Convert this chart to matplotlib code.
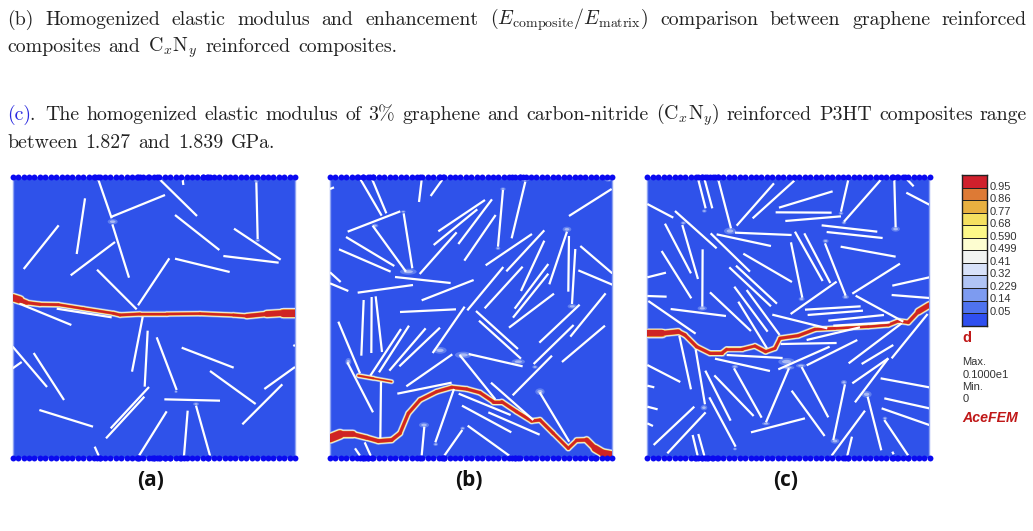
import matplotlib
matplotlib.use('Agg')
import matplotlib.pyplot as plt
from matplotlib.patches import Ellipse
from matplotlib.colors import ListedColormap
import numpy as np

plt.rcParams['mathtext.fontset'] = 'cm'
plt.rcParams['axes.unicode_minus'] = False

fibres_a = [
    (295,44,335,160),(337,178,387,338),(335,155,495,90),(255,100,230,267),(176,181,71,312),
    (345,231,212,331),(291,314,410,433),(508,280,414,421),(525,281,689,321),(525,150,658,255),
    (480,44,591,153),(548,44,550,60),(769,52,773,222),(702,191,842,284),(670,273,836,293),
    (58,416,214,480),(170,431,335,457),(428,456,396,620),(443,497,434,665),(470,517,530,675),
    (545,548,701,608),(630,618,767,717),(885,606,793,672),(847,658,727,778),(880,540,885,543),
    (38,545,141,666),(38,610,65,591),(101,564,192,705),(118,735,279,785),(447,666,332,790),
    (433,695,318,820),(493,703,660,707),(500,739,417,872),(563,737,552,872),(588,722,630,872),
    (284,845,296,872),
]
fibres_b = [
    (122,44,185,152),(157,44,199,145),(305,44,297,111),(367,44,332,93),(30,72,42,67),
    (875,72,747,153),(616,50,575,220),(549,75,534,245),(495,105,355,199),(472,133,341,240),
    (516,103,415,237),(527,150,433,287),(410,202,299,327),(241,139,83,200),(251,145,277,310),
    (158,182,258,320),(78,216,223,303),(57,253,212,320),(30,322,62,351),(30,355,85,378),
    (225,336,392,354),(113,383,279,360),(461,345,305,406),(636,207,497,301),(673,196,559,319),
    (550,306,442,436),(608,305,494,430),(673,227,603,378),(685,297,584,431),(685,326,579,458),
    (702,386,567,488),(741,200,688,358),(747,213,745,380),(766,252,756,417),(781,243,877,325),
    (775,316,877,359),(857,385,751,515),(779,419,658,533),(855,482,726,591),(761,480,641,597),
    (696,572,578,691),(131,405,124,572),(155,396,154,564),(167,394,186,561),(240,441,408,433),
    (434,425,338,564),(468,438,594,552),(477,467,603,581),(55,470,120,625),(243,492,151,632),
    (267,482,177,622),(317,490,208,617),(360,488,238,604),(446,567,608,604),(397,568,259,664),
    (395,653,232,686),(419,570,526,703),(513,653,640,765),(416,686,572,750),(426,722,574,802),
    (505,742,659,809),(443,782,568,872),(659,682,748,830),(402,672,346,832),(313,785,305,872),
    (427,795,373,872),(82,592,159,742),(183,650,181,820),(105,850,120,872),(134,832,152,872),
]
fibres_c = [
    (190,44,212,130),(209,44,232,130),(250,44,288,190),(417,55,305,182),(478,47,353,160),
    (593,79,432,128),(640,44,618,140),(738,44,627,170),(778,44,782,187),(817,44,836,64),
    (814,83,883,119),(37,117,115,158),(120,138,245,250),(422,142,590,143),(451,168,618,154),
    (560,181,727,200),(575,201,743,219),(300,203,470,210),(245,208,408,243),(90,176,168,325),
    (142,180,189,342),(80,258,169,400),(227,205,345,320),(203,253,202,425),(325,266,471,351),
    (468,232,502,398),(480,200,563,348),(508,205,586,354),(570,235,632,392),(617,245,782,275),
    (795,296,652,386),(772,362,883,337),(770,390,883,399),(37,337,93,323),(37,393,95,395),
    (40,408,182,506),(107,432,273,453),(225,382,348,498),(283,307,408,424),(303,302,426,416),
    (298,365,398,500),(310,410,396,550),(335,375,434,510),(605,350,467,447),(662,392,805,470),
    (412,449,577,490),(510,434,677,424),(518,450,684,437),(580,467,747,450),(595,482,764,472),
    (515,525,675,487),(437,537,605,534),(275,570,443,579),(240,581,405,618),(133,512,168,673),
    (182,553,210,718),(37,600,136,651),(37,662,58,667),(37,725,68,733),(37,775,54,783),
    (211,617,287,767),(238,631,356,753),(223,697,302,845),(297,610,380,758),(178,725,56,840),
    (212,742,97,865),(173,810,188,872),(190,807,208,872),(430,613,584,545),(515,601,667,525),
    (462,610,393,772),(500,606,580,757),(470,677,569,813),(510,760,348,802),(630,658,595,825),
    (690,737,590,872),(651,815,637,872),(641,595,800,475),(680,597,775,540),(652,655,760,580),
    (770,580,878,447),(660,712,760,580),(698,695,739,856),(737,640,883,667),(748,700,883,730),
    (740,730,883,780),(748,765,820,872),(772,860,776,868),
]

crack_a_x = [38,60,80,120,175,250,340,360,420,500,600,700,740,800,850,885]
crack_a_y = [398,405,413,418,419,431,445,450,447,447,446,450,453,447,444,444]
crack_a_w = [14,9,5,5,4,4,4,5,4,4,4,4,5,8,11,14]

crack_b_x = [30,60,100,140,175,215,240,265,300,350,395,440,480,520,545,590,635,660,700,745,770,800,825,850,877]
crack_b_y = [820,808,808,818,828,825,805,745,705,680,667,672,683,710,710,740,768,765,805,850,826,825,850,865,870]
crack_b_w = [15,12,7,6,6,6,5,5,5,5,5,5,5,5,5,5,5,5,5,4,5,6,10,12,12]

crack_b2_x = [115,160,215]
crack_b2_y = [632,640,650]
crack_b2_w = [3,3,1.5]

crack_c_x = [37,80,130,150,185,225,260,275,320,360,392,420,435,490,540,600,700,760,790,820,850,883]
crack_c_y = [505,505,500,510,545,565,565,553,553,543,560,550,520,512,493,490,485,480,468,472,440,420]
crack_c_w = [13,9,6,5,5,5,5,5,4,5,5,4,5,5,5,4,4,4,5,5,6,11]

glow_a = [(338,170,30,16),(773,226,14,10),(769,48,14,10),(588,717,18,10),(528,680,10,8),(427,455,12,8)]
glow_b = [(265,320,50,18),(165,182,20,12),(250,140,14,8),(549,72,16,10),(534,250,14,10),(741,193,26,16),
          (757,424,28,14),(360,556,40,20),(430,570,50,20),(595,590,40,16),(660,680,28,20),(312,780,30,16),
          (347,838,14,10),(428,790,14,10),(85,590,18,22),(645,606,16,10),(615,46,22,8),(865,46,18,8)]
glow_c = [(285,198,36,20),(208,138,14,10),(145,174,16,10),(782,192,26,16),(627,173,14,10),(618,145,14,10),
          (572,228,18,12),(500,402,18,12),(632,396,20,12),(202,430,28,14),(300,605,20,12),(207,728,20,16),
          (393,776,24,10),(460,608,36,12),(498,602,30,12),(455,590,50,22),(627,652,18,14),(600,828,26,16),
          (695,688,30,20),(750,760,14,10),(300,852,12,8)]

nodes = [38,54,71,87,103,120,136,152,168,185,201,217,234,250,266,283,299,315,331,348,364,380,397,413,
         429,446,462,478,494,511,527,543,560,576,592,609,625,641,657,674,690,706,723,739,755,772,788,
         804,820,837,853,869,885]
extra_a_top = [285,295,412,420,445,470,610,620,630]
extra_a_bot = [292,300,410,418,455,462,470,480,495,510,540,552,625]
extra_b_top = [115,128,150,160,300,360,370,575,600,610]
extra_b_bot = [120,128,135,145,155,300,365,372,575,585,595,825]
extra_c_top = [190,200,210,225,240,250,775,790,810]
extra_c_bot = [180,190,200,210,220,232,245,630,640,775,790,820]

level_labels = ['0.95','0.86','0.77','0.68','0.590','0.499','0.41','0.32','0.229','0.14','0.05']
level_colors = ['#2f4ff0','#4f73ee','#7d9bf0','#b0c4f5','#d8e2fa','#f2f4f2','#fdfdd0','#fdf888',
                '#f5e060','#e8b040','#dd7a35','#d0202c']
panel_labels = ['(a)','(b)','(c)']

BLUE = '#2f52ea'
W, H = 1033, 531
fig = plt.figure(figsize=(W/100, H/100), dpi=100)


def make_ax(x0, y0, x1, y1):
    return fig.add_axes([x0/W, 1-y1/H, (x1-x0)/W, (y1-y0)/H])


def draw_crack(ax, x, y, w):
    # each layer is a run of round capped pieces, so width holds on the steep parts
    for extra, col in [(7,'#7f96f0'),(5,'#dfe5fa'),(3.2,'#fdf6a8'),(1.2,'#ef9a30'),(0,'#cf2424')]:
        for i in range(len(x)-1):
            lw = (w[i]+w[i+1])/2+extra
            ax.plot(x[i:i+2], y[i:i+2], color=col, lw=lw*0.42, solid_capstyle='round', zorder=4)


def draw_panel(x0, x1, fibres, cracks, glows, top_extra, bot_extra, left, right):
    ax = make_ax(x0, 165+36/3, x1, 165+880/3)
    ax.set_xlim(left, right)
    ax.set_ylim(880, 36)
    ax.set_facecolor(BLUE)
    ax.set_xticks([])
    ax.set_yticks([])
    for s in ax.spines.values():
        s.set_visible(False)
    for s in ['left','right']:
        ax.spines[s].set_visible(True)
        ax.spines[s].set_color('#8ea3f2')
        ax.spines[s].set_linewidth(1.0)
    for gx, gy, gw, gh in glows:
        ax.add_patch(Ellipse((gx, gy), gw, gh, color='#5f7ef0', lw=0, zorder=1))
        ax.add_patch(Ellipse((gx, gy), gw*0.55, gh*0.5, color='#a9b9f4', lw=0, zorder=1))
    for c in cracks:
        draw_crack(ax, *c)
    for f in fibres:
        ax.plot([f[0],f[2]], [f[1],f[3]], color='white', lw=1.6, solid_capstyle='butt', zorder=5)
    mesh = [n-38+left for n in nodes]
    top = mesh + list(top_extra)
    bot = mesh + list(bot_extra)
    ax.scatter(top, [36]*len(top), s=18, color='#0a0af0', lw=0, clip_on=False, zorder=6)
    ax.scatter(bot, [880]*len(bot), s=18, color='#0a0af0', lw=0, clip_on=False, zorder=6)
    return ax


draw_panel(12.7, 295, fibres_a, [(crack_a_x, crack_a_y, crack_a_w)], glow_a, extra_a_top, extra_a_bot, 38, 885)
draw_panel(330, 612.3, fibres_b, [(crack_b_x, crack_b_y, crack_b_w), (crack_b2_x, crack_b2_y, crack_b2_w)],
           glow_b, extra_b_top, extra_b_bot, 30, 877)
draw_panel(647.3, 929.3, fibres_c, [(crack_c_x, crack_c_y, crack_c_w)], glow_c, extra_c_top, extra_c_bot, 37, 883)

# colour scale
cax = make_ax(962.3, 175, 987.3, 325.7)
levels = np.arange(len(level_colors)+1)
cax.pcolormesh([0, 1], levels, np.arange(len(level_colors)).reshape(-1, 1),
               cmap=ListedColormap(level_colors), edgecolors='#222222', linewidth=0.7)
cax.set_xticks([])
cax.set_yticks([])
for s in cax.spines.values():
    s.set_color('#222222')
    s.set_linewidth(1.0)

# text overlay in pixel coordinates
over = fig.add_axes([0, 0, 1, 1], zorder=10)
over.set_xlim(0, W)
over.set_ylim(H, 0)
over.axis('off')
over.patch.set_alpha(0)

for i, lab in enumerate(level_labels):
    over.text(989.5, 186.7+i*12.53, lab, family='Liberation Sans', fontsize=8, color='#333333', va='center')
over.text(962.5, 338, 'd', family='Liberation Sans', fontsize=10.5, weight='bold', color='#c01818', va='center')
for yy, s in [(362,'Max.'),(375,'0.1000e1'),(386.5,'Min.'),(399.5,'0')]:
    over.text(962.5, yy, s, family='Liberation Sans', fontsize=8, color='#333333', va='center')
over.text(962.5, 418, 'AceFEM', family='Liberation Sans', fontsize=10.2, weight='bold', style='italic',
          color='#c01818', va='center')

for xx, lab in zip([151, 469, 786], panel_labels):
    over.text(xx, 480, lab, family='Open Sans', fontsize=15, weight='bold', color='#111111', ha='center', va='center')

TXT = 14.3
renderer = fig.canvas.get_renderer()


def put_line(words, y, x0, x1=None):
    # words are set one by one so the line can be justified like the page
    ts = []
    for w, col in words:
        if '$' in w:
            ts.append(over.text(x0, y, w, fontsize=TXT, color=col, va='baseline', math_fontfamily='cm'))
        else:
            ts.append(over.text(x0, y, w, family='cmr10', fontsize=TXT, color=col, va='baseline'))
    widths = [t.get_window_extent(renderer).width for t in ts]
    if x1 is None:
        gap = TXT*0.55
    else:
        gap = (x1-x0-sum(widths))/(len(ts)-1)
    x = x0
    for t, wd in zip(ts, widths):
        t.set_x(x)
        x += wd+gap


K = '#222222'
line1 = ['(b)', 'Homogenized', 'elastic', 'modulus', 'and', 'enhancement',
         r'$(E_{\mathrm{composite}}/E_{\mathrm{matrix}})$', 'comparison', 'between', 'graphene', 'reinforced']
line2 = ['composites', 'and', r'$\mathrm{C}_x\mathrm{N}_y$', 'reinforced', 'composites.']
line3 = ['The', 'homogenized', 'elastic', 'modulus', 'of', '3%', 'graphene', 'and', 'carbon-nitride',
         r'$(\mathrm{C}_x\mathrm{N}_y)$', 'reinforced', 'P3HT', 'composites', 'range']
line4 = ['between', '1.827', 'and', '1.839', 'GPa.']

put_line([(w, K) for w in line1], 25, 7, 1027)
put_line([(w, K) for w in line2], 52, 7)
over.text(7, 120, '(c)', family='cmr10', fontsize=TXT, color='#2a2ae0', va='baseline')
over.text(29, 120, '.', family='cmr10', fontsize=TXT, color=K, va='baseline')
put_line([(w, K) for w in line3], 120, 45, 1027)
put_line([(w, K) for w in line4], 148, 7)

fig.savefig('out.png', dpi=100)
